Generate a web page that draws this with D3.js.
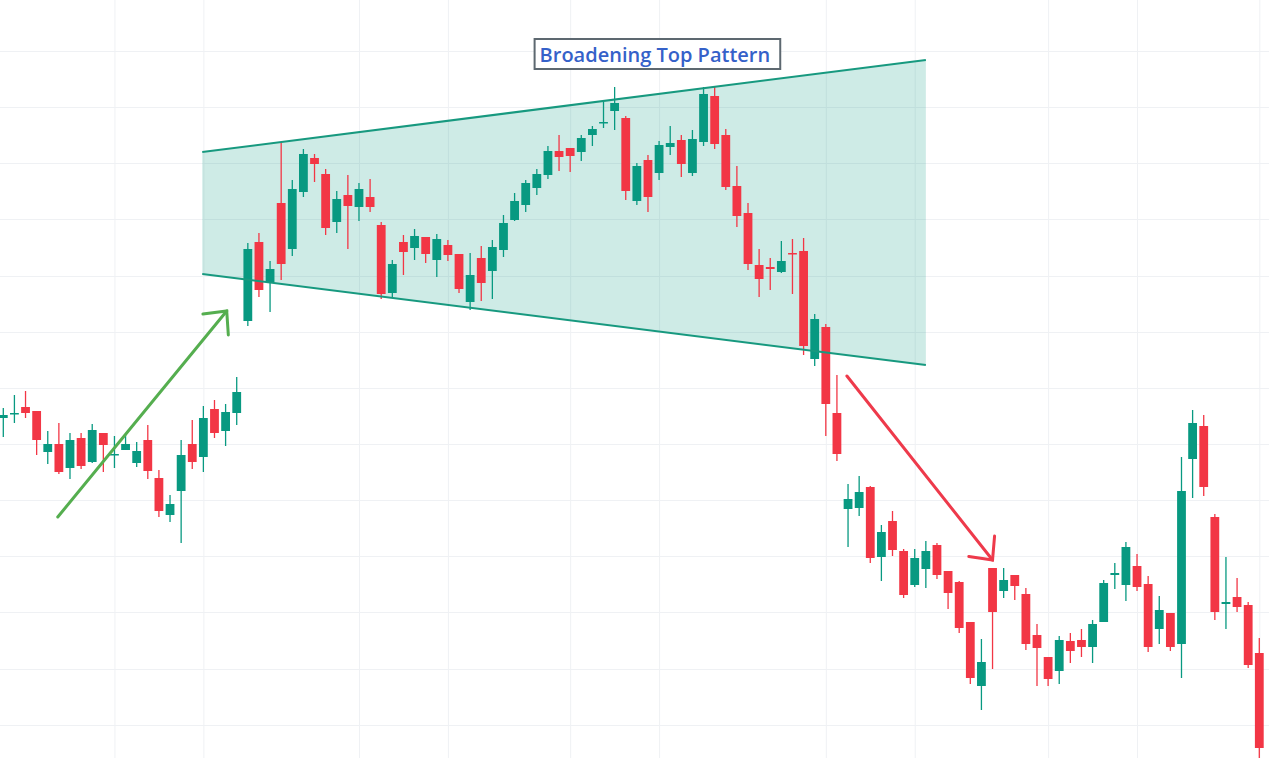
<!DOCTYPE html>
<html>
<head>
<meta charset="utf-8">
<script src="https://cdn.jsdelivr.net/npm/d3@7"></script>
<style>
  html, body { margin: 0; padding: 0; background: #ffffff; }
  svg { display: block; }
  .grid line { stroke: #eff1f4; stroke-width: 1; }
  .grid path { display: none; }
  .grid text { display: none; }
</style>
</head>
<body>
<svg id="chart" width="1269" height="758"></svg>
<script>
// ---- data ----
const openP = [58.2,58.6,59.3,58.9,54.8,55.6,53.2,56.2,53.8,56.7,54.5,55.0,53.7,56.0,52.2,48.5,50.9,55.6,54.3,59.1,
  56.9,58.7,67.9,75.8,71.8,79.7,75.1,80.8,84.2,82.6,77.8,80.5,79.3,80.3,77.5,70.7,75.8,75.2,76.3,74.0,
  75.5,74.6,69.8,74.2,72.9,75.0,78.0,79.5,81.2,82.5,84.9,85.2,84.8,86.5,87.7,88.9,88.2,79.9,84.0,82.7,
  85.3,86.0,82.7,85.8,90.4,86.5,81.4,78.7,73.5,73.3,72.8,74.7,74.9,64.1,67.3,58.7,49.1,49.2,51.3,44.3,
  47.9,44.9,41.5,43.1,45.5,42.9,41.8,37.8,31.4,43.2,40.9,42.5,40.6,36.5,34.3,32.9,35.9,36.0,35.3,37.8,
  42.5,41.5,43.4,41.6,37.1,38.7,35.6,54.1,57.4,48.3,39.6,40.3,39.5,34.7];
const highP = [59.2,60.5,60.9,58.9,56.9,57.7,56.7,56.7,57.6,56.7,56.4,56.5,55.8,57.5,53.0,50.5,56.0,58.0,59.4,60.0,
  59.6,62.3,75.7,76.7,73.9,85.8,82.0,85.1,84.6,83.1,80.9,82.5,81.7,82.1,77.8,74.0,76.5,77.1,76.3,76.6,
  76.0,74.6,74.7,75.4,76.0,78.5,80.7,82.0,83.1,85.4,86.5,85.2,86.5,87.4,89.8,91.3,88.4,83.7,84.5,85.9,
  87.4,86.5,87.0,91.3,91.4,87.1,83.4,79.7,75.1,74.2,75.9,76.1,76.2,68.6,67.6,62.5,51.6,52.4,51.4,47.5,
  48.9,45.1,45.1,45.9,45.7,42.9,41.9,37.8,36.1,43.2,43.2,42.5,41.2,37.6,34.3,36.4,36.7,37.1,38.0,42.0,
  43.7,45.8,44.6,42.4,40.4,38.7,54.3,59.0,58.5,48.6,44.3,42.2,39.8,36.2];
const lowP = [56.3,57.7,58.2,54.5,53.6,52.6,52.1,53.1,53.7,52.8,53.2,55.0,53.3,52.1,48.3,47.8,45.7,53.1,52.8,56.2,
  55.4,57.5,67.4,70.3,68.8,72.0,74.4,80.3,81.8,76.5,76.7,75.1,77.9,78.8,70.1,70.3,72.5,74.0,73.7,72.3,
  73.9,70.7,69.0,69.9,70.1,74.3,77.9,78.8,80.5,82.1,82.9,82.8,83.9,85.4,87.2,87.0,80.0,79.5,78.8,82.0,
  84.5,82.3,82.4,85.4,85.1,81.0,77.3,73.0,70.3,71.0,72.7,70.6,64.5,63.4,56.4,53.9,45.3,48.4,43.7,41.9,
  44.4,40.2,41.3,41.2,42.1,39.1,36.7,31.6,29.0,33.1,40.2,40.0,35.0,31.4,31.4,31.6,33.7,34.3,33.7,37.8,
  41.1,39.9,40.9,34.8,35.6,34.9,32.2,50.2,50.4,38.0,37.1,38.8,33.2,24.2];
const closeP = [58.5,58.7,58.7,56.0,55.6,52.8,56.0,53.4,57.0,55.5,54.6,55.6,54.9,52.9,48.9,49.6,54.5,53.8,58.2,56.7,
  58.8,60.8,75.1,71.0,73.1,73.6,81.1,84.6,83.6,77.2,80.1,79.4,81.1,79.3,70.6,73.6,74.8,76.4,74.6,76.1,
  74.5,71.1,72.5,71.7,75.3,77.7,79.9,81.7,82.6,84.9,84.3,84.4,86.2,87.1,87.8,89.7,80.9,83.4,80.3,85.5,
  85.7,83.6,86.1,90.6,85.6,81.3,78.4,73.6,72.1,73.1,73.9,74.6,65.4,68.1,59.6,54.6,50.1,50.8,44.2,46.8,
  45.0,40.5,44.2,44.9,42.5,40.7,37.2,32.2,33.8,38.8,42.0,41.4,35.6,35.2,32.1,36.0,34.9,35.3,37.6,41.7,
  42.7,45.3,41.3,35.3,39.0,35.3,50.9,57.7,51.3,38.8,39.8,39.3,33.5,25.2];

// time grid (candle indices where the vertical grid lines fall) and price grid levels
const timeGridIdx = [10, 18, 32, 40, 51, 59, 74, 82, 94, 102, 113];
const priceGrid = [94.9, 89.3, 83.7, 78.1, 72.4, 66.8, 61.2, 55.6, 50.0, 44.4, 38.8, 33.1, 27.5];

// drawings: [index, price] anchor points
const channelUpper = [[17.9, 84.8], [83.0, 94.0]];
const channelLower = [[17.9, 72.6], [83.0, 63.5]];
const upArrow = [[4.9, 48.3], [20.1, 68.9]];
const downArrow = [[75.9, 62.4], [89.0, 44.0]];
const titleText = "Broadening Top Pattern";
const titleBox = [[47.8, 96.1], [69.9, 93.1]]; // top-left and bottom-right anchors

// ---- drawing ----
const W = 1269, H = 758;
const svg = d3.select("#chart");
const x = d3.scaleLinear().domain([0, 113]).range([3.3, 1259.3]);
const y = d3.scaleLinear().domain([24.2, 100]).range([758, 0]);

// grid via axes
svg.append("g").attr("class", "grid")
  .call(d3.axisLeft(y).tickValues(priceGrid).tickSize(-W).tickFormat(""));
svg.append("g").attr("class", "grid")
  .call(d3.axisBottom(x).tickValues(timeGridIdx).tickSize(-H).tickFormat(""))
  .attr("transform", `translate(0,${H})`);

// channel fill
const poly = [channelUpper[0], channelUpper[1], channelLower[1], channelLower[0]];
svg.append("path")
  .attr("d", d3.line().x(d => x(d[0])).y(d => y(d[1]))(poly) + "Z")
  .attr("fill", "#089981").attr("fill-opacity", 0.2);

// candles
const idx = d3.range(openP.length);
const up = "#089981", down = "#f23645";
const bw = 8.8;
const cg = svg.append("g");
cg.selectAll("line.wick").data(idx).join("line")
  .attr("class", "wick")
  .attr("x1", i => x(i)).attr("x2", i => x(i))
  .attr("y1", i => y(highP[i])).attr("y2", i => y(lowP[i]))
  .attr("stroke", i => closeP[i] >= openP[i] ? up : down)
  .attr("stroke-width", 1.3);
cg.selectAll("rect.body").data(idx).join("rect")
  .attr("class", "body")
  .attr("x", i => x(i) - bw / 2)
  .attr("width", bw)
  .attr("y", i => y(Math.max(openP[i], closeP[i])))
  .attr("height", i => Math.max(1.5, Math.abs(y(openP[i]) - y(closeP[i]))))
  .attr("fill", i => closeP[i] >= openP[i] ? up : down);

// channel border lines
const lineGen = d3.line().x(d => x(d[0])).y(d => y(d[1]));
[channelUpper, channelLower].forEach(l => {
  svg.append("path").attr("d", lineGen(l))
    .attr("fill", "none").attr("stroke", "#17997f").attr("stroke-width", 2);
});

// arrows
function arrow(pts, color) {
  const [p0, p1] = pts;
  const x0 = x(p0[0]), y0 = y(p0[1]), x1 = x(p1[0]), y1 = y(p1[1]);
  const ang = Math.atan2(y1 - y0, x1 - x0);
  const L = 24, a = Math.PI * 0.24;
  const g = svg.append("g").attr("stroke", color).attr("stroke-width", 3)
    .attr("stroke-linecap", "round").attr("fill", "none");
  g.append("line").attr("x1", x0).attr("y1", y0).attr("x2", x1).attr("y2", y1);
  g.append("path").attr("stroke-linejoin", "miter").attr("d",
    `M${x1 - L * Math.cos(ang - a)},${y1 - L * Math.sin(ang - a)}L${x1},${y1}L${x1 - L * Math.cos(ang + a)},${y1 - L * Math.sin(ang + a)}`);
}
arrow(upArrow, "#55ae4f");
arrow(downArrow, "#ee3a4b");

// title box
const bx0 = x(titleBox[0][0]), by0 = y(titleBox[0][1]);
const bx1 = x(titleBox[1][0]), by1 = y(titleBox[1][1]);
svg.append("rect")
  .attr("x", bx0).attr("y", by0).attr("width", bx1 - bx0).attr("height", by1 - by0)
  .attr("fill", "#ffffff").attr("stroke", "#5d6870").attr("stroke-width", 2);
svg.append("text")
  .attr("x", bx0 + 5).attr("y", (by0 + by1) / 2)
  .attr("dominant-baseline", "central")
  .attr("font-family", "'Open Sans', sans-serif").attr("font-weight", 600)
  .attr("font-size", 20).attr("fill", "#3561c9")
  .text(titleText);
</script>
</body>
</html>
